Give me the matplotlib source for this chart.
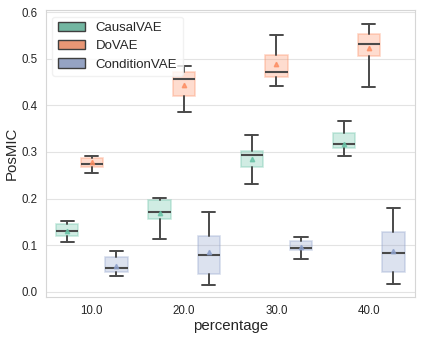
import matplotlib
matplotlib.use("Agg")
import matplotlib.pyplot as plt
import matplotlib.patches as mpatches
import seaborn as sns

# data (box stats per method, per percentage)
percentages = ["10.0", "20.0", "30.0", "40.0"]
methods = ["CausalVAE", "DoVAE", "ConditionVAE"]

causal_whislo = [0.107, 0.112, 0.232, 0.292]
causal_q1 = [0.120, 0.157, 0.268, 0.308]
causal_med = [0.131, 0.171, 0.294, 0.317]
causal_q3 = [0.146, 0.196, 0.302, 0.340]
causal_whishi = [0.151, 0.202, 0.337, 0.366]
causal_mean = [0.130, 0.169, 0.286, 0.318]

do_whislo = [0.254, 0.387, 0.441, 0.440]
do_q1 = [0.267, 0.421, 0.462, 0.507]
do_med = [0.274, 0.456, 0.472, 0.532]
do_q3 = [0.288, 0.472, 0.508, 0.554]
do_whishi = [0.292, 0.485, 0.551, 0.576]
do_mean = [0.278, 0.444, 0.490, 0.524]

cond_whislo = [0.033, 0.015, 0.069, 0.016]
cond_q1 = [0.041, 0.037, 0.090, 0.043]
cond_med = [0.051, 0.078, 0.093, 0.083]
cond_q3 = [0.075, 0.120, 0.109, 0.127]
cond_whishi = [0.087, 0.170, 0.117, 0.180]
cond_mean = [0.055, 0.084, 0.096, 0.087]

series = [
    (causal_whislo, causal_q1, causal_med, causal_q3, causal_whishi, causal_mean),
    (do_whislo, do_q1, do_med, do_q3, do_whishi, do_mean),
    (cond_whislo, cond_q1, cond_med, cond_q3, cond_whishi, cond_mean),
]

sns.set_style("whitegrid", {"grid.color": "#e3e3e3", "axes.edgecolor": "#d6d6d6"})
plt.rcParams['font.family'] = ['Liberation Sans', 'DejaVu Sans']

palette = sns.color_palette("Set2", 3)
legend_colors = [sns.desaturate(c, 0.75) for c in palette]

fig = plt.figure(figsize=(4.23, 3.38), dpi=100)
ax = fig.add_axes([0.108, 0.121, 0.873, 0.849])

offsets = [-0.267, 0.0, 0.267]
width = 0.24
line_col = "#4a4a4a"

for k, (wlo, q1, med, q3, whi, mean) in enumerate(series):
    stats = []
    for i in range(len(percentages)):
        stats.append(dict(whislo=wlo[i], q1=q1[i], med=med[i], q3=q3[i],
                          whishi=whi[i], mean=mean[i], fliers=[]))
    pos = [i + offsets[k] for i in range(len(percentages))]
    col = palette[k]
    ax.bxp(stats, positions=pos, widths=width, patch_artist=True,
           showmeans=True, showfliers=False, manage_ticks=False,
           boxprops=dict(facecolor=(*col, 0.3), edgecolor=(*col, 0.35), linewidth=1.2),
           medianprops=dict(color=line_col, linewidth=1.5),
           whiskerprops=dict(color=line_col, linewidth=1.4),
           capprops=dict(color=line_col, linewidth=1.4),
           capwidths=width * 0.6,
           meanprops=dict(marker="^", markerfacecolor=col, markeredgecolor=col,
                          markersize=3.2, alpha=0.8))

ax.set_xlim(-0.5, 3.5)
ax.set_ylim(-0.012, 0.605)
ax.set_xticks(range(len(percentages)))
ax.set_xticklabels(percentages)
ax.set_yticks([0.0, 0.1, 0.2, 0.3, 0.4, 0.5, 0.6])
ax.tick_params(labelsize=8.3, colors="#262626", pad=2.5)
ax.xaxis.grid(False)
ax.set_xlabel("percentage", fontsize=10.8, color="#262626", labelpad=1)
ax.set_ylabel("PosMIC", fontsize=10.8, color="#262626", labelpad=1.5)

handles = [mpatches.Patch(facecolor=legend_colors[k], edgecolor="#3f3f3f", label=m)
           for k, m in enumerate(methods)]
leg = ax.legend(handles=handles, loc="upper left", fontsize=9.5, handlelength=2.1,
                borderaxespad=0.5, labelspacing=0.45, handletextpad=0.8)
leg.get_frame().set_edgecolor("#eeeeee")

fig.savefig("out.png", dpi=100)
